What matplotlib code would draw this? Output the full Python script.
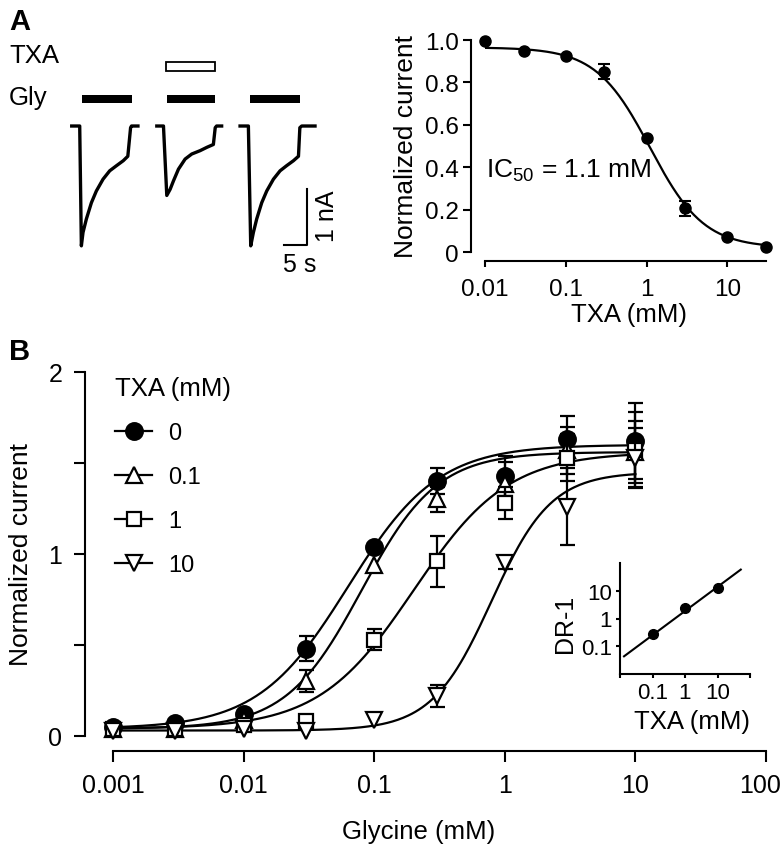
import numpy as np
import matplotlib
matplotlib.use('Agg')
import matplotlib.pyplot as plt
from matplotlib.patches import Rectangle
from matplotlib.lines import Line2D
from matplotlib.transforms import ScaledTranslation

plt.rcParams['font.family'] = ['Liberation Sans', 'DejaVu Sans']
plt.rcParams['mathtext.default'] = 'regular'
plt.rcParams['axes.linewidth'] = 1.5
plt.rcParams['xtick.major.width'] = 1.5
plt.rcParams['ytick.major.width'] = 1.5

W, H = 784, 845

# ---- A, left: current traces (time in s, current in nA) ----
trace_t = [
    [0, 1.74, 2.1, 2.46, 3.19, 4.28, 5.36, 6.81, 8.26, 9.71, 11.2, 12.2, 12.8, 13.0, 14.4],
    [0, 1.45, 2.17, 2.9, 3.62, 4.71, 6.16, 7.6, 9.42, 10.9, 12.3, 12.7, 13.0, 14.1],
    [0, 1.81, 2.32, 2.9, 3.62, 4.71, 5.8, 7.25, 8.7, 10.1, 11.6, 12.7, 13.0, 13.4, 16.3],
]
trace_i = [
    [0, 0, -2.14, -1.90, -1.66, -1.37, -1.16, -0.95, -0.80, -0.71, -0.62, -0.54, -0.03, 0, 0],
    [0, 0, -1.24, -1.13, -0.98, -0.77, -0.59, -0.50, -0.44, -0.38, -0.33, -0.03, 0, 0],
    [0, 0, -2.14, -1.90, -1.66, -1.37, -1.16, -0.95, -0.80, -0.71, -0.62, -0.54, -0.03, 0, 0],
]
trace_start = [0, 18.5, 36.6]
gly_on = [2.17, 2.17, 2.17]
gly_off = [13.0, 12.7, 13.0]
txa_on = [None, 1.96, None]
txa_off = [None, 12.67, None]

# ---- A, right: TXA concentration-response ----
txa_conc = [0.01, 0.03, 0.1, 0.3, 1, 3, 10, 30]
txa_resp = [0.997, 0.95, 0.923, 0.85, 0.536, 0.206, 0.069, 0.025]
txa_err = [0, 0, 0, 0.035, 0, 0.035, 0, 0]
ic50, ic_hill, ic_top, ic_bot = 1.1, 1.3, 0.965, 0.02

# ---- B: glycine concentration-response at 4 TXA concentrations ----
gly_conc = [0.001, 0.003, 0.01, 0.03, 0.1, 0.3, 1, 3, 10]
txa_levels = ['0', '0.1', '1', '10']
gly_resp = {
    '0':   [0.05, 0.07, 0.12, 0.48, 1.04, 1.40, 1.43, 1.63, 1.62],
    '0.1': [0.04, 0.04, 0.09, 0.30, 0.94, 1.30, 1.385, 1.57, 1.56],
    '1':   [0.04, 0.04, 0.06, 0.08, 0.53, 0.96, 1.28, 1.53, 1.57],
    '10':  [0.03, 0.03, 0.04, 0.03, 0.09, 0.22, 0.95, 1.26, 1.53],
}
gly_err = {
    '0':   [0, 0, 0, 0.07, 0, 0.07, 0.11, 0.13, 0.21],
    '0.1': [0, 0, 0, 0.06, 0, 0.07, 0.12, 0.13, 0.17],
    '1':   [0, 0, 0, 0, 0.06, 0.14, 0.09, 0.13, 0.21],
    '10':  [0, 0, 0, 0, 0, 0.06, 0.03, 0.21, 0.16],
}
# Hill fits: bottom, top, EC50, n
gly_fit = {
    '0':   (0.04, 1.60, 0.063, 1.26),
    '0.1': (0.04, 1.56, 0.08, 1.5),
    '1':   (0.04, 1.56, 0.2, 1.2),
    '10':  (0.03, 1.45, 0.79, 1.9),
}
markers = {'0': 'o', '0.1': '^', '1': 's', '10': 'v'}
msizes = {'0': 12, '0.1': 11, '1': 10, '10': 11}
mfaces = {'0': 'k', '0.1': 'w', '1': 'w', '10': 'w'}

# ---- B inset: Schild plot ----
schild_txa = [0.1, 1, 10]
schild_dr = [0.27, 2.3, 12.9]
schild_kb, schild_slope = 0.49, 0.87


def hill(x, bot, top, ec50, n):
    return bot + (top - bot) / (1 + (ec50 / x) ** n)


fig = plt.figure(figsize=(W / 100, H / 100), dpi=100)

# panel A traces
axt = fig.add_axes([0, 1 - 300 / H, 390 / W, 300 / H])
axt.set_xlim(-15.59, 69.2)
axt.set_ylim(-3.089, 2.268)
axt.axis('off')
for k in range(3):
    t0 = trace_start[k]
    axt.plot(np.array(trace_t[k]) + t0, trace_i[k], color='k', lw=2.4,
             solid_joinstyle='round')
    axt.add_patch(Rectangle((t0 + gly_on[k], 0.41), gly_off[k] - gly_on[k], 0.14,
                            facecolor='k', edgecolor='k', lw=0))
    if txa_on[k] is not None:
        axt.add_patch(Rectangle((t0 + txa_on[k], 0.985), txa_off[k] - txa_on[k], 0.16,
                                facecolor='w', edgecolor='k', lw=1.3))
# scale bar 5 s / 1 nA
axt.plot([46.2, 51.2, 51.2], [-2.125, -2.125, -1.125], color='k', lw=1.5)
axt.text(55.5, -1.6, '1 nA', rotation=90, ha='center', va='center', fontsize=18)
axt.text(49.6, -2.25, '5 s', ha='center', va='top', fontsize=18)

fig.text(9 / W, 1 - 30 / H, 'A', fontsize=21, fontweight='bold', va='baseline')
fig.text(9 / W, 1 - 63 / H, 'TXA', fontsize=18.5, va='baseline')
fig.text(9 / W, 1 - 105 / H, 'Gly', fontsize=18.5, va='baseline')
fig.text(9 / W, 1 - 360 / H, 'B', fontsize=21, fontweight='bold', va='baseline')

# panel A concentration-response
ax1 = fig.add_axes([485 / W, 1 - 253 / H, 281 / W, 212 / H])
ax1.set_xscale('log')
ax1.set_xlim(0.01, 30)
ax1.set_ylim(0, 1.0)
xs = np.logspace(np.log10(0.01), np.log10(30), 200)
ax1.plot(xs, ic_bot + (ic_top - ic_bot) / (1 + (xs / ic50) ** ic_hill), color='k', lw=1.6)
e_idx = [i for i, e in enumerate(txa_err) if e > 0]
ax1.errorbar([txa_conc[i] for i in e_idx], [txa_resp[i] for i in e_idx],
             yerr=[txa_err[i] for i in e_idx], fmt='none', ecolor='k', elinewidth=1.5,
             capsize=4.3, capthick=1.5)
ax1.plot(txa_conc, txa_resp, 'o', color='k', ms=8, clip_on=False, zorder=5)
for s in ['top', 'right']:
    ax1.spines[s].set_visible(False)
ax1.spines['left'].set_position(('outward', 10))
ax1.spines['bottom'].set_position(('outward', 6.5))
ax1.set_xticks([0.01, 0.1, 1, 10])
ax1.set_xticklabels(['0.01', '0.1', '1', '10'])
ax1.xaxis.set_minor_locator(matplotlib.ticker.NullLocator())
ax1.set_yticks([0, 0.2, 0.4, 0.6, 0.8, 1.0])
ax1.set_yticklabels(['0', '0.2', '0.4', '0.6', '0.8', '1.0'])
ax1.tick_params(axis='x', length=4, pad=8, labelsize=17.5)
ax1.tick_params(axis='y', length=6, pad=3, labelsize=17.5)
ax1.set_xlabel('TXA (mM)', fontsize=18.5)
ax1.xaxis.set_label_coords(0.512, -0.236)
ax1.set_ylabel('Normalized current', fontsize=19)
ax1.yaxis.set_label_coords(-0.238, 0.5)
ax1.text(0.004, 0.354, 'IC$_{50}$ = 1.1 mM', transform=ax1.transAxes,
         fontsize=19, va='baseline', ha='left')

# panel B
ax2 = fig.add_axes([113 / W, 1 - 737 / H, 653 / W, 364 / H])
ax2.set_xscale('log')
ax2.set_xlim(0.001, 100)
ax2.set_ylim(0, 2)
xg = np.logspace(-3, 1, 300)
for lev in txa_levels:
    ax2.plot(xg, hill(xg, *gly_fit[lev]), color='k', lw=1.6, zorder=2)
for j, lev in enumerate(txa_levels):
    idx = [i for i, e in enumerate(gly_err[lev]) if e > 0]
    ax2.errorbar([gly_conc[i] for i in idx], [gly_resp[lev][i] for i in idx],
                 yerr=[gly_err[lev][i] for i in idx], fmt='none', ecolor='k',
                 elinewidth=1.6, capsize=5.4, capthick=1.6, zorder=3 + j)
    ax2.plot(gly_conc, gly_resp[lev], linestyle='none', marker=markers[lev],
             ms=msizes[lev], mfc=mfaces[lev], mec='k', mew=1.6, zorder=3 + j,
             clip_on=False)
for s in ['top', 'right']:
    ax2.spines[s].set_visible(False)
ax2.spines['left'].set_position(('outward', 20))
ax2.spines['bottom'].set_position(('outward', 10.8))
ax2.set_xticks([0.001, 0.01, 0.1, 1, 10, 100])
ax2.set_xticklabels(['0.001', '0.01', '0.1', '1', '10', '100'])
ax2.xaxis.set_minor_locator(matplotlib.ticker.NullLocator())
ax2.set_yticks([0, 0.5, 1, 1.5, 2])
ax2.set_yticklabels(['0', '', '1', '', '2'])
ax2.tick_params(axis='x', length=8, pad=8, labelsize=18)
ax2.tick_params(axis='y', length=8, pad=8.5, labelsize=18)
# the last label sits a little left of its tick, as in the original
last = ax2.get_xticklabels()[-1]
last.set_transform(last.get_transform() + ScaledTranslation(-0.06, 0, fig.dpi_scale_trans))
ax2.set_xlabel('Glycine (mM)', fontsize=18.5)
ax2.xaxis.set_label_coords(0.4678, -0.228)
ax2.set_ylabel('Normalized current', fontsize=19)
ax2.yaxis.set_label_coords(-0.1225, 0.5)

handles = [Line2D([], [], color='k', lw=1.6, marker=markers[lev], ms=msizes[lev],
                  mfc=mfaces[lev], mec='k', mew=1.6) for lev in txa_levels]
leg = ax2.legend(handles, txa_levels, title='TXA (mM)', loc='upper left',
                 bbox_to_anchor=(115 / W, 1 - 377 / H), bbox_transform=fig.transFigure,
                 frameon=False, fontsize=17, title_fontsize=18.5, borderpad=0,
                 borderaxespad=0, handlelength=1.57, handletextpad=0.68,
                 labelspacing=0.93, alignment='left')

# inset Schild plot
ax3 = fig.add_axes([620 / W, 1 - 675 / H, 130 / W, 111 / H])
ax3.set_xscale('log')
ax3.set_yscale('log')
ax3.set_xlim(0.01, 100)
ax3.set_ylim(0.01, 100)
xl = np.logspace(np.log10(0.0133), np.log10(52), 50)
ax3.plot(xl, (xl / schild_kb) ** schild_slope, color='k', lw=1.5)
ax3.plot(schild_txa, schild_dr, 'o', color='k', ms=7)
for s in ['top', 'right']:
    ax3.spines[s].set_visible(False)
ax3.set_xticks([0.01, 0.1, 1, 10, 100])
ax3.set_xticklabels(['', '0.1', '1', '10', ''])
ax3.set_yticks([0.1, 1, 10])
ax3.set_yticklabels(['0.1', '1', '10'])
ax3.xaxis.set_minor_locator(matplotlib.ticker.NullLocator())
ax3.yaxis.set_minor_locator(matplotlib.ticker.NullLocator())
ax3.tick_params(length=3, pad=3, labelsize=16)
ax3.set_xlabel('TXA (mM)', fontsize=18.5)
ax3.xaxis.set_label_coords(0.55, -0.315)
ax3.set_ylabel('DR-1', fontsize=18)
ax3.yaxis.set_label_coords(-0.33, 0.464)

fig.savefig('out.png', dpi=100)
